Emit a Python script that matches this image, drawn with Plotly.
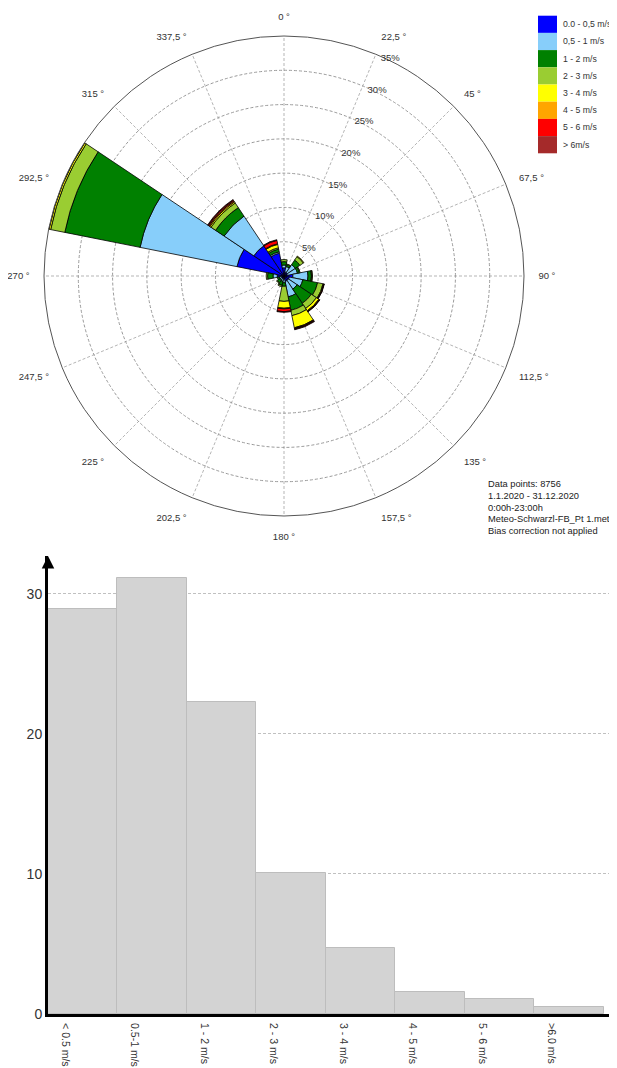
import plotly.graph_objects as go

# ---------------- Wind rose data (frequency in %) ----------------
directions = [0, 22.5, 45, 67.5, 90, 112.5, 135, 157.5, 180, 202.5, 225, 247.5, 270, 292.5, 315, 337.5]
direction_labels = ["0 °", "22,5 °", "45 °", "67,5 °", "90 °", "112,5 °", "135 °", "157,5 °",
                    "180 °", "202,5 °", "225 °", "247,5 °", "270 °", "292,5 °", "315 °", "337,5 °"]

speed_classes = ["0.0 - 0,5 m/s", "0,5 - 1 m/s", "1 - 2 m/s", "2 - 3 m/s",
                 "3 - 4 m/s", "4 - 5 m/s", "5 - 6 m/s", "> 6m/s"]
class_colors = ["#0000FF", "#87CEFA", "#008000", "#9ACD32",
                "#FFFF00", "#FFA500", "#FF0000", "#A52A2A"]

#            0    22.5  45   67.5  90  112.5 135  157.5 180 202.5 225 247.5 270  292.5  315  337.5
freq_0_05 = [1.2, 0.6, 0.6, 0.5, 1.3, 0.8, 0.8, 0.8, 0.5, 0.4, 0.4, 0.4, 1.0, 7.0, 5.3, 3.4]
freq_05_1 = [0.4, 0.8, 1.4, 1.5, 2.2, 2.0, 1.5, 2.3, 0.5, 0.4, 0.3, 0.3, 0.6, 14.4, 5.2, 0.2]
freq_1_2 = [0.5, 0.3, 0.8, 0.3, 0.5, 2.2, 2.5, 2.0, 0.5, 0.6, 0.5, 0.3, 0.8, 11.2, 1.5, 0.4]
freq_2_3 = [0.3, 0.1, 0.6, 0.1, 0.1, 0.8, 0.9, 0.8, 2.2, 0.2, 0.1, 0.0, 0.2, 2.1, 0.8, 0.2]
freq_3_4 = [0.0, 0.0, 0.1, 0.0, 0.05, 0.1, 0.4, 1.8, 1.0, 0.0, 0.0, 0.0, 0.0, 0.25, 0.2, 0.5]
freq_4_5 = [0.0, 0.0, 0.0, 0.0, 0.0, 0.05, 0.1, 0.1, 0.1, 0.0, 0.0, 0.0, 0.0, 0.05, 0.15, 0.1]
freq_5_6 = [0.0, 0.0, 0.0, 0.0, 0.0, 0.05, 0.05, 0.1, 0.4, 0.0, 0.0, 0.0, 0.0, 0.0, 0.15, 0.5]
freq_6_up = [0.0, 0.0, 0.0, 0.0, 0.0, 0.0, 0.05, 0.1, 0.1, 0.0, 0.0, 0.0, 0.0, 0.0, 0.1, 0.1]
class_series = [freq_0_05, freq_05_1, freq_1_2, freq_2_3, freq_3_4, freq_4_5, freq_5_6, freq_6_up]

radial_ticks = [5, 10, 15, 20, 25, 30, 35]
radial_labels = ["5%", "10%", "15%", "20%", "25%", "30%", "35%"]

info_lines = ["Data points: 8756", "1.1.2020 - 31.12.2020", "0:00h-23:00h",
              "Meteo-Schwarzl-FB_Pt 1.met", "Bias correction not applied"]

# ---------------- Histogram data ----------------
hist_labels = ["< 0.5 m/s", "0.5-1 m/s", "1 - 2 m/s", "2 - 3 m/s",
               "3 - 4 m/s", "4 - 5 m/s", "5 - 6 m/s", ">6.0 m/s"]
hist_values = [28.9, 31.1, 22.3, 10.1, 4.7, 1.6, 1.1, 0.5]
hist_yticks = [0, 10, 20, 30]

# page body has an 8px margin: the figure starts at (8, 8) in the window
OX, OY = 8, 8
W, H = 617 - OX, 1068 - OY
FONT = "Liberation Sans, Arial, sans-serif"


def px(x):
    return (x - OX) / W


def py(y):
    return 1 - (y - OY) / H


fig = go.Figure()

for name, color, vals in zip(speed_classes, class_colors, class_series):
    fig.add_trace(go.Barpolar(
        r=vals, theta=directions, name=name,
        marker=dict(color=color, line=dict(color="black", width=0.8)),
        showlegend=False,
    ))

hist_x = list(range(len(hist_values)))
fig.add_trace(go.Bar(
    x=hist_x, y=hist_values, width=1.0,
    marker=dict(color="#d3d3d3", line=dict(color="#bdbdbd", width=1)),
    xaxis="x", yaxis="y", showlegend=False,
))

# polar geometry (window pixels)
cx, cy, rad = 284, 276, 240
fig.update_layout(
    width=W, height=H,
    margin=dict(l=0, r=0, t=0, b=0),
    paper_bgcolor="white", plot_bgcolor="white",
    font=dict(family=FONT, size=10, color="#333"),
    polar=dict(
        domain=dict(x=[px(cx - rad), px(cx + rad)],
                    y=[py(cy + rad), py(cy - rad)]),
        bgcolor="white", bargap=0, barmode="stack",
        angularaxis=dict(
            rotation=90, direction="clockwise",
            tickmode="array", tickvals=directions, ticktext=direction_labels,
            showline=True, linecolor="#555", linewidth=1,
            showgrid=True, gridcolor="#b5b5b5", griddash="3px,2px", gridwidth=1,
            ticks="outside", ticklen=12, tickcolor="rgba(0,0,0,0)",
            tickfont=dict(size=9.5, color="#333"),
        ),
        radialaxis=dict(
            range=[0, 35], angle=67.5, tickangle=67.5,
            tickmode="array", tickvals=radial_ticks, ticktext=radial_labels,
            showline=False, ticks="",
            showgrid=True, gridcolor="#9a9a9a", griddash="3px,2px", gridwidth=1,
            tickfont=dict(size=9.5, color="#333"),
        ),
    ),
    xaxis=dict(
        domain=[px(48), 1.0], range=[-0.5, 7.69],
        tickmode="array", tickvals=[i - 0.25 for i in hist_x], ticktext=hist_labels,
        tickangle=90, tickfont=dict(size=10.5, color="#333"),
        ticks="outside", ticklen=4, tickcolor="rgba(0,0,0,0)",
        showline=True, linecolor="black", linewidth=3,
        showgrid=False, zeroline=False, automargin=False, fixedrange=True,
        anchor="y",
    ),
    yaxis=dict(
        domain=[py(1014), py(556)], range=[0, 32.7],
        tickmode="array", tickvals=hist_yticks,
        tickfont=dict(size=14, color="#333"),
        showline=True, linecolor="black", linewidth=3,
        showgrid=True, gridcolor="#c0c0c0", griddash="3px,2px", gridwidth=1,
        zeroline=False, automargin=False, anchor="x",
    ),
    bargap=0,
)

# arrow head on the y axis
fig.add_annotation(x=-0.5, y=32.7, xref="x", yref="y", text="", showarrow=True,
                   ax=0, ay=12, arrowhead=2, arrowsize=1, arrowwidth=2.5, arrowcolor="black",
                   standoff=0)

# info text, one line each
for i, line in enumerate(info_lines):
    fig.add_annotation(x=px(486), y=py(484 + i * 11.75), xref="paper", yref="paper",
                       xanchor="left", yanchor="middle", align="left", showarrow=False,
                       text=line, font=dict(size=9.3, color="#222"))

# legend (swatches)
lx0, lx1, ly0, lh = 538, 557, 15.7, 17.2
for i, (name, color) in enumerate(zip(speed_classes, class_colors)):
    top = ly0 + i * lh
    fig.add_shape(type="rect", xref="paper", yref="paper",
                  x0=px(lx0), x1=px(lx1), y0=py(top + lh), y1=py(top),
                  fillcolor=color, line=dict(width=0))
    fig.add_annotation(x=px(561), y=py(top + lh / 2), xref="paper", yref="paper",
                       xanchor="left", yanchor="middle", showarrow=False,
                       text=name, font=dict(size=8.7, color="#333"))

fig.write_html("out.html")
